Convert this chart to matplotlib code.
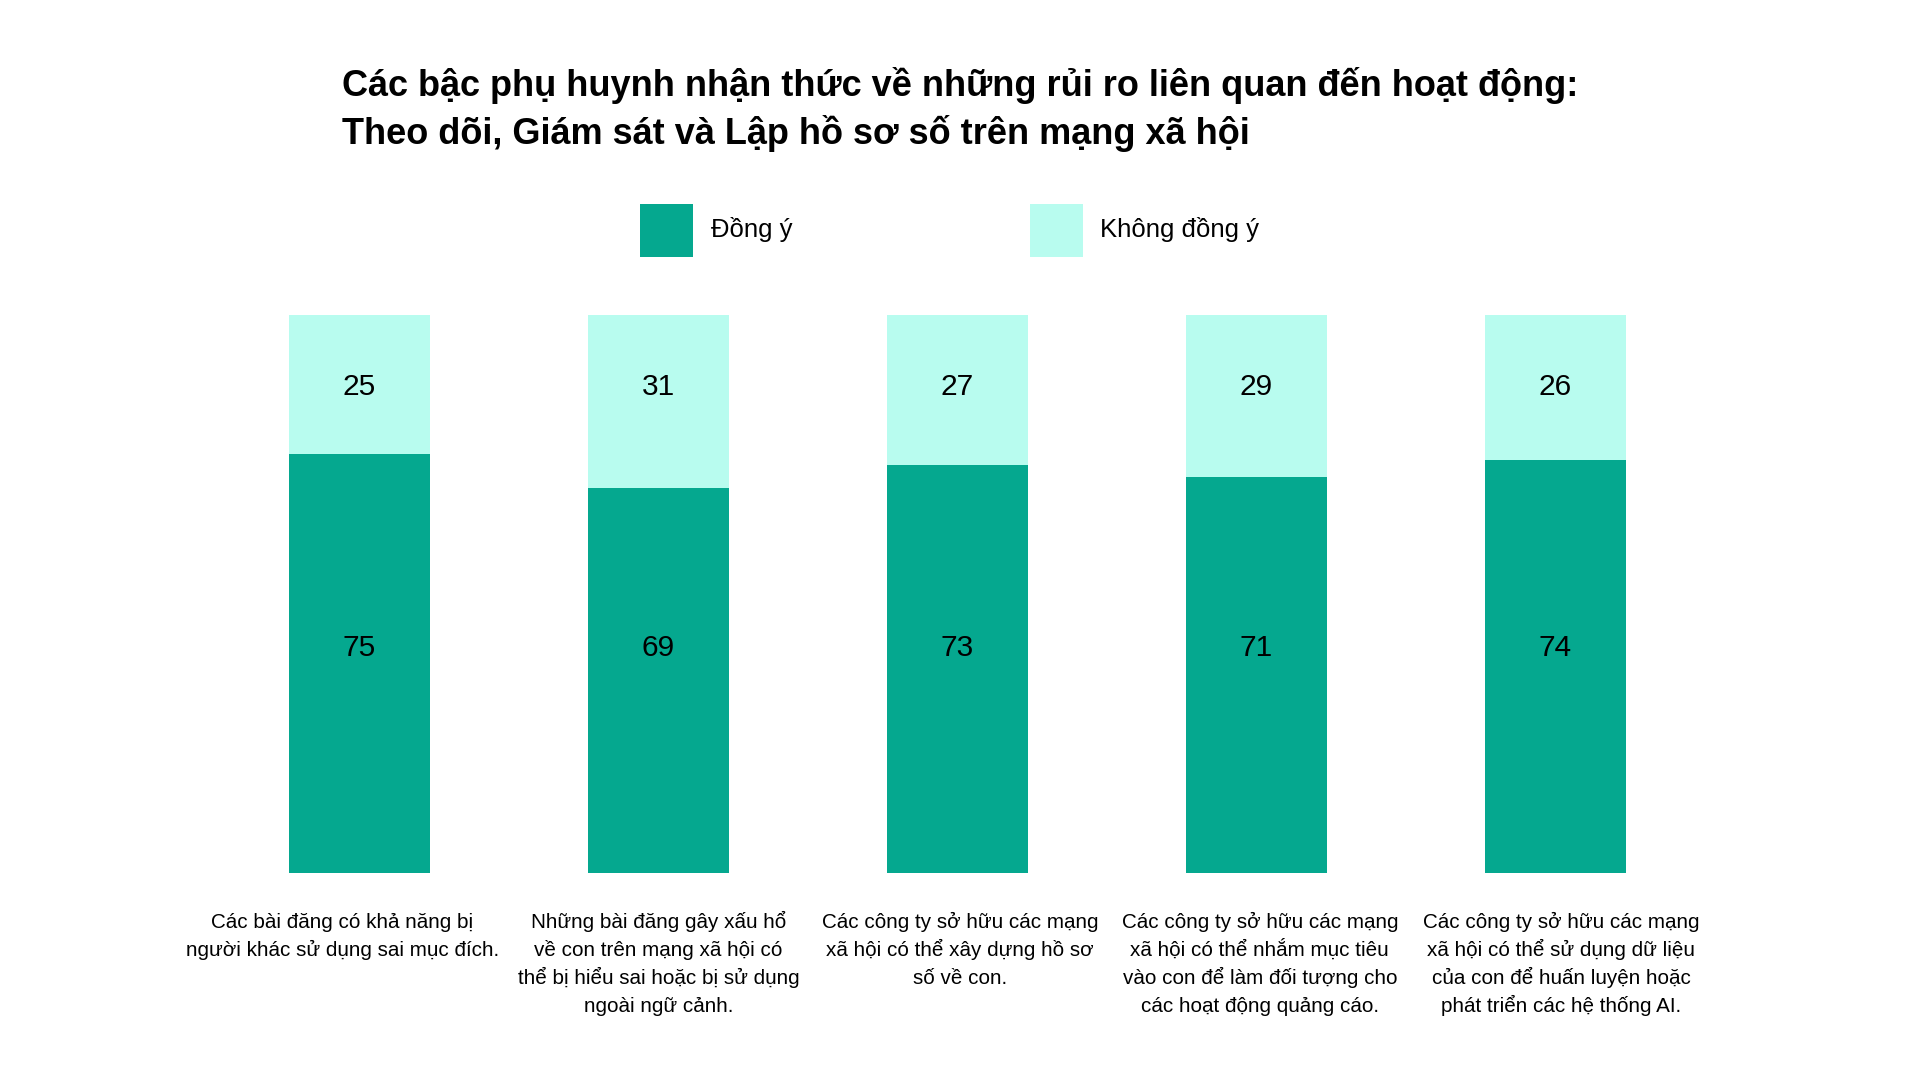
import matplotlib
matplotlib.use("Agg")
import matplotlib.pyplot as plt
from matplotlib.patches import Rectangle
from matplotlib.transforms import blended_transform_factory

plt.rcParams['font.family'] = ['Liberation Sans', 'DejaVu Sans']

title_lines = [
    "Các bậc phụ huynh nhận thức về những rủi ro liên quan đến hoạt động:",
    "Theo dõi, Giám sát và Lập hồ sơ số trên mạng xã hội",
]
series_names = ["Đồng ý", "Không đồng ý"]
agree = [75, 69, 73, 71, 74]
disagree = [25, 31, 27, 29, 26]
categories = [
    ["Các bài đăng có khả năng bị", "người khác sử dụng sai mục đích."],
    ["Những bài đăng gây xấu hổ", "về con trên mạng xã hội có",
     "thể bị hiểu sai hoặc bị sử dụng", "ngoài ngữ cảnh."],
    ["Các công ty sở hữu các mạng", "xã hội có thể xây dựng hồ sơ", "số về con."],
    ["Các công ty sở hữu các mạng", "xã hội có thể nhắm mục tiêu",
     "vào con để làm đối tượng cho", "các hoạt động quảng cáo."],
    ["Các công ty sở hữu các mạng", "xã hội có thể sử dụng dữ liệu",
     "của con để huấn luyện hoặc", "phát triển các hệ thống AI."],
]
colors = ["#05A88F", "#B8FCEF"]

W, H = 1920, 1080
fig = plt.figure(figsize=(19.2, 10.8), dpi=100)
fig.patch.set_facecolor("white")

ax = fig.add_axes([0.1093, 0.1917, 0.7786, 0.517])
x = list(range(len(agree)))
ax.bar(x, agree, width=0.47, color=colors[0], linewidth=0)
ax.bar(x, disagree, width=0.47, bottom=agree, color=colors[1], linewidth=0)
ax.set_xlim(-0.5, 4.5)
ax.set_ylim(0, 100)
ax.axis("off")

# value labels sit at fixed heights in the original
for i in x:
    ax.text(i, 40.3, str(agree[i]), ha="center", va="center", fontsize=21.5)
    ax.text(i, 87.0, str(disagree[i]), ha="center", va="center", fontsize=21.5)

# category labels, drawn line by line (original is not exactly centred)
label_dx = [-17, 0, 2.5, 3.5, 6]  # px
tr = blended_transform_factory(ax.transData, fig.transFigure)
for i, lines in enumerate(categories):
    for j, line in enumerate(lines):
        y_px = 927.5 + j * 28.2
        ax.text(i + label_dx[i] / 299, 1 - y_px / H, line, transform=tr,
                ha="center", va="baseline", fontsize=14.9)

# title
for j, line in enumerate(title_lines):
    y_px = 95.5 + j * 48.3
    fig.text(342 / W, 1 - y_px / H, line, ha="left", va="baseline",
             fontsize=26, fontweight="bold")

# legend
sq = 52.7
for k, (name, left) in enumerate(zip(series_names, [640.4, 1029.8])):
    fig.patches.append(Rectangle((left / W, 1 - 257.1 / H), sq / W, sq / H,
                                 transform=fig.transFigure, facecolor=colors[k],
                                 linewidth=0))
    fig.text((left + sq + 18) / W, 1 - 237.5 / H, name, ha="left",
             va="baseline", fontsize=18.5)

fig.savefig("out.png", dpi=100)
